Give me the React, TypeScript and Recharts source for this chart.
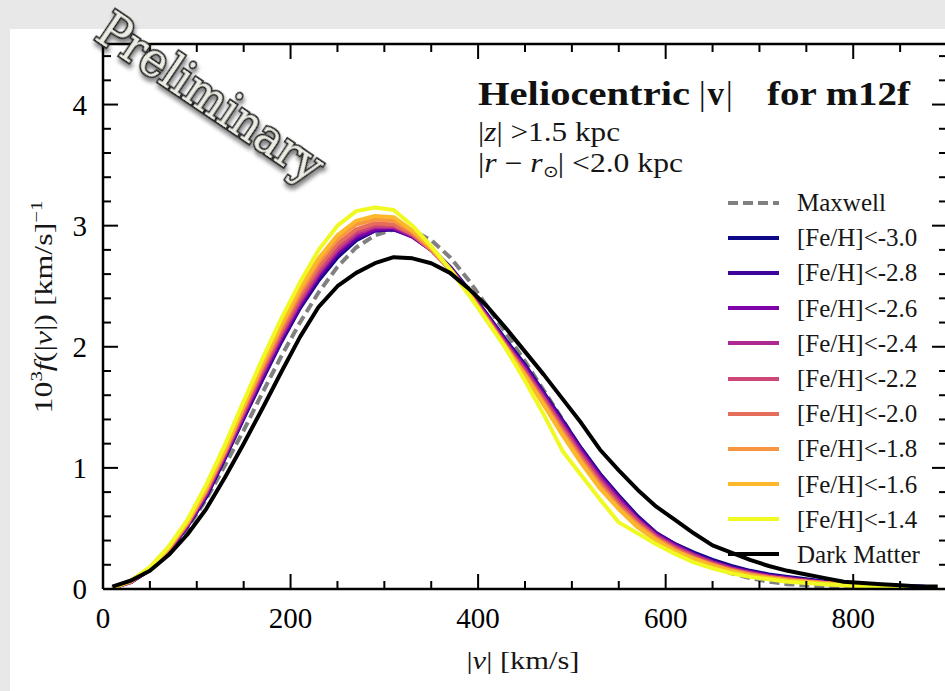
import React from 'react';
import { LineChart, Line, XAxis, YAxis, Legend } from 'recharts';

// |v| bin centres in km/s
const velocity = [10, 30, 50, 70, 90, 110, 130, 150, 170, 190, 210, 230, 250, 270, 290, 310, 330, 350, 370, 390, 410, 430, 450, 470, 490, 510, 530, 550, 570, 590, 610, 630, 650, 670, 690, 710, 730, 750, 770, 790, 810, 830, 850, 870, 890];

// 10^3 f(|v|) for each selection
const maxwell = [0.01, 0.06, 0.16, 0.31, 0.50, 0.74, 1.02, 1.31, 1.62, 1.92, 2.20, 2.45, 2.66, 2.82, 2.92, 2.97, 2.96, 2.88, 2.74, 2.55, 2.33, 2.11, 1.88, 1.64, 1.40, 1.15, 0.94, 0.75, 0.59, 0.45, 0.34, 0.25, 0.18, 0.13, 0.09, 0.06, 0.04, 0.03, 0.02, 0.01, 0.01, 0.01, 0, 0, 0];
const feH30 = [0.01, 0.06, 0.16, 0.31, 0.52, 0.76, 1.08, 1.41, 1.73, 2.04, 2.32, 2.55, 2.74, 2.88, 2.96, 2.97, 2.92, 2.81, 2.66, 2.47, 2.26, 2.05, 1.85, 1.62, 1.39, 1.16, 0.95, 0.77, 0.60, 0.46, 0.37, 0.30, 0.24, 0.19, 0.15, 0.12, 0.10, 0.08, 0.06, 0.05, 0.04, 0.03, 0.02, 0.02, 0.01];
const feH28 = [0.01, 0.06, 0.16, 0.31, 0.52, 0.77, 1.09, 1.42, 1.74, 2.05, 2.33, 2.57, 2.76, 2.89, 2.96, 2.97, 2.91, 2.80, 2.65, 2.46, 2.25, 2.04, 1.84, 1.61, 1.38, 1.15, 0.94, 0.76, 0.59, 0.46, 0.37, 0.29, 0.23, 0.18, 0.14, 0.11, 0.09, 0.07, 0.06, 0.05, 0.04, 0.03, 0.02, 0.02, 0.01];
const feH26 = [0.01, 0.06, 0.16, 0.32, 0.53, 0.78, 1.10, 1.43, 1.76, 2.07, 2.35, 2.59, 2.78, 2.91, 2.97, 2.98, 2.91, 2.80, 2.65, 2.46, 2.25, 2.03, 1.83, 1.60, 1.37, 1.14, 0.93, 0.75, 0.58, 0.45, 0.36, 0.28, 0.22, 0.17, 0.14, 0.11, 0.09, 0.07, 0.05, 0.04, 0.03, 0.03, 0.02, 0.01, 0.01];
const feH24 = [0.01, 0.06, 0.17, 0.32, 0.53, 0.79, 1.11, 1.45, 1.78, 2.09, 2.37, 2.61, 2.80, 2.93, 2.99, 2.99, 2.92, 2.80, 2.65, 2.45, 2.24, 2.02, 1.81, 1.58, 1.35, 1.12, 0.91, 0.73, 0.57, 0.44, 0.35, 0.28, 0.22, 0.17, 0.13, 0.10, 0.08, 0.07, 0.05, 0.04, 0.03, 0.02, 0.02, 0.01, 0.01];
const feH22 = [0.01, 0.06, 0.17, 0.33, 0.54, 0.80, 1.12, 1.46, 1.80, 2.11, 2.39, 2.63, 2.82, 2.95, 3.00, 3.00, 2.93, 2.80, 2.64, 2.45, 2.23, 2.01, 1.80, 1.57, 1.33, 1.10, 0.89, 0.71, 0.56, 0.43, 0.34, 0.27, 0.21, 0.16, 0.13, 0.10, 0.08, 0.06, 0.05, 0.04, 0.03, 0.02, 0.02, 0.01, 0.01];
const feH20 = [0.01, 0.06, 0.17, 0.33, 0.54, 0.81, 1.13, 1.48, 1.82, 2.13, 2.42, 2.66, 2.85, 2.97, 3.02, 3.01, 2.93, 2.80, 2.64, 2.44, 2.22, 2.00, 1.78, 1.55, 1.31, 1.08, 0.87, 0.69, 0.54, 0.42, 0.33, 0.26, 0.20, 0.16, 0.12, 0.10, 0.08, 0.06, 0.05, 0.04, 0.03, 0.02, 0.02, 0.01, 0.01];
const feH18 = [0.01, 0.07, 0.17, 0.34, 0.55, 0.82, 1.14, 1.50, 1.84, 2.16, 2.45, 2.70, 2.89, 3.01, 3.05, 3.04, 2.95, 2.81, 2.64, 2.44, 2.22, 1.99, 1.77, 1.53, 1.29, 1.06, 0.85, 0.67, 0.53, 0.41, 0.32, 0.25, 0.20, 0.15, 0.12, 0.09, 0.07, 0.06, 0.05, 0.04, 0.03, 0.02, 0.02, 0.01, 0.01];
const feH16 = [0.01, 0.07, 0.17, 0.34, 0.55, 0.83, 1.15, 1.51, 1.86, 2.18, 2.48, 2.73, 2.92, 3.04, 3.08, 3.07, 2.96, 2.82, 2.64, 2.44, 2.21, 1.99, 1.76, 1.52, 1.27, 1.04, 0.83, 0.66, 0.51, 0.40, 0.31, 0.25, 0.19, 0.15, 0.11, 0.09, 0.07, 0.06, 0.04, 0.03, 0.03, 0.02, 0.02, 0.01, 0.01];
const feH14 = [0.01, 0.07, 0.18, 0.35, 0.57, 0.86, 1.19, 1.55, 1.90, 2.23, 2.53, 2.80, 3.00, 3.12, 3.15, 3.13, 3.00, 2.83, 2.64, 2.43, 2.21, 1.98, 1.72, 1.44, 1.14, 0.94, 0.74, 0.55, 0.46, 0.37, 0.29, 0.22, 0.17, 0.13, 0.10, 0.08, 0.06, 0.05, 0.04, 0.03, 0.02, 0.02, 0.01, 0.01, 0.01];
const darkMatter = [0.02, 0.07, 0.15, 0.28, 0.45, 0.66, 0.92, 1.20, 1.49, 1.79, 2.08, 2.33, 2.50, 2.61, 2.69, 2.74, 2.73, 2.69, 2.61, 2.48, 2.33, 2.15, 1.96, 1.77, 1.57, 1.37, 1.15, 0.98, 0.82, 0.68, 0.57, 0.46, 0.36, 0.30, 0.24, 0.19, 0.15, 0.12, 0.09, 0.06, 0.05, 0.04, 0.03, 0.02, 0.02];

const xTicks = [0, 50, 100, 150, 200, 250, 300, 350, 400, 450, 500, 550, 600, 650, 700, 750, 800, 850, 900];
const yTicks = [0, 0.2, 0.4, 0.6, 0.8, 1, 1.2, 1.4, 1.6, 1.8, 2, 2.2, 2.4, 2.6, 2.8, 3, 3.2, 3.4, 3.6, 3.8, 4, 4.2, 4.4];

const series = [
  { key: 'maxwell', name: 'Maxwell', values: maxwell, color: '#808080', dash: '10 5' },
  { key: 'fe30', name: '[Fe/H]<-3.0', values: feH30, color: '#0d0887' },
  { key: 'fe28', name: '[Fe/H]<-2.8', values: feH28, color: '#3f049b' },
  { key: 'fe26', name: '[Fe/H]<-2.6', values: feH26, color: '#7e03a8' },
  { key: 'fe24', name: '[Fe/H]<-2.4', values: feH24, color: '#ae2892' },
  { key: 'fe22', name: '[Fe/H]<-2.2', values: feH22, color: '#cc4778' },
  { key: 'fe20', name: '[Fe/H]<-2.0', values: feH20, color: '#e66c5c' },
  { key: 'fe18', name: '[Fe/H]<-1.8', values: feH18, color: '#f89540' },
  { key: 'fe16', name: '[Fe/H]<-1.6', values: feH16, color: '#fdb72b' },
  { key: 'fe14', name: '[Fe/H]<-1.4', values: feH14, color: '#f0f921' },
  { key: 'dm', name: 'Dark Matter', values: darkMatter, color: '#000000' },
];

const rows = velocity.map((v, i) => {
  const row: Record<string, number> = { v };
  series.forEach((s) => { row[s.key] = s.values[i]; });
  return row;
});

const SERIF = "'Liberation Serif', 'Times New Roman', serif";

const isMajorX = (v: number) => v % 200 === 0;
const isMajorY = (v: number) => Math.abs(v - Math.round(v)) < 1e-6;

const BottomTick = (props: any) => {
  const { x, y, payload } = props;
  const major = isMajorX(payload.value);
  return (
    <g>
      <line x1={x} x2={x} y1={y} y2={y - (major ? 15 : 8)} stroke="#000" strokeWidth={2} />
      {major && (
        <text x={x} y={y + 39} textAnchor="middle" fontSize={29} fontFamily={SERIF} fill="#000">
          {payload.value}
        </text>
      )}
    </g>
  );
};

const TopTick = (props: any) => {
  const { x, y, payload } = props;
  const major = isMajorX(payload.value);
  return <line x1={x} x2={x} y1={y} y2={y + (major ? 15 : 8)} stroke="#000" strokeWidth={2} />;
};

const LeftTick = (props: any) => {
  const { x, y, payload } = props;
  const major = isMajorY(payload.value);
  return (
    <g>
      <line x1={x} x2={x + (major ? 15 : 8)} y1={y} y2={y} stroke="#000" strokeWidth={2} />
      {major && (
        <text x={x - 16} y={y} dy="0.35em" textAnchor="end" fontSize={29} fontFamily={SERIF} fill="#000">
          {Math.round(payload.value)}
        </text>
      )}
    </g>
  );
};

const RightTick = (props: any) => {
  const { x, y, payload } = props;
  const major = isMajorY(payload.value);
  return <line x1={x} x2={x - (major ? 15 : 8)} y1={y} y2={y} stroke="#000" strokeWidth={2} />;
};

const renderLegend = (props: any) => {
  const items = [...(props.payload || [])].sort(
    (a: any, b: any) => series.findIndex((s) => s.name === a.value) - series.findIndex((s) => s.name === b.value)
  );
  return (
    <div>
      {items.map((item: any) => {
        const cfg = series.find((s) => s.name === item.value);
        return (
          <div key={item.value} style={{ display: 'flex', alignItems: 'center', height: 35.2 }}>
            <svg width={51} height={8} style={{ display: 'block' }}>
              <line x1={0} x2={51} y1={4} y2={4} stroke={item.color} strokeWidth={4} strokeDasharray={cfg?.dash} />
            </svg>
            <span style={{ marginLeft: 18, fontFamily: SERIF, fontSize: 25, color: '#161616', lineHeight: 1, whiteSpace: 'nowrap' }}>
              {item.value}
            </span>
          </div>
        );
      })}
    </div>
  );
};

const axisLine = { stroke: '#000', strokeWidth: 2.5 };

export default function App() {
  return (
    <div style={{ position: 'fixed', left: 0, top: 0, width: 945, height: 691, overflow: 'hidden', background: '#e8e8e8' }}>
      <div style={{ position: 'absolute', left: 10, top: 29, right: 0, bottom: 0, background: '#ffffff' }} />
      <div style={{ position: 'absolute', left: 0, top: 0 }}>
        <LineChart width={957} height={691} data={rows} margin={{ top: 0, right: 0, bottom: 0, left: 0 }}>
          <XAxis
            xAxisId="b"
            dataKey="v"
            type="number"
            domain={[0, 900]}
            ticks={xTicks}
            interval={0}
            height={102}
            tickSize={0}
            tickMargin={0}
            tickLine={false}
            axisLine={axisLine}
            tick={<BottomTick />}
            allowDataOverflow
          />
          <XAxis
            xAxisId="t"
            orientation="top"
            dataKey="v"
            type="number"
            domain={[0, 900]}
            ticks={xTicks}
            interval={0}
            height={44}
            tickSize={0}
            tickMargin={0}
            tickLine={false}
            axisLine={axisLine}
            tick={<TopTick />}
            allowDataOverflow
          />
          <YAxis
            yAxisId="l"
            type="number"
            domain={[0, 4.5]}
            ticks={yTicks}
            interval={0}
            width={103}
            tickSize={0}
            tickMargin={0}
            tickLine={false}
            axisLine={axisLine}
            tick={<LeftTick />}
            allowDataOverflow
          />
          <YAxis
            yAxisId="r"
            orientation="right"
            type="number"
            domain={[0, 4.5]}
            ticks={yTicks}
            interval={0}
            width={10}
            tickSize={0}
            tickMargin={0}
            tickLine={false}
            axisLine={axisLine}
            tick={<RightTick />}
            allowDataOverflow
          />
          <Legend
            layout="vertical"
            align="center"
            verticalAlign="middle"
            content={renderLegend}
            wrapperStyle={{ left: 728, top: 185, width: 215 }}
          />
          {series.map((s) => (
            <Line
              key={s.key}
              xAxisId="b"
              yAxisId="l"
              type="linear"
              dataKey={s.key}
              name={s.name}
              stroke={s.color}
              strokeWidth={4}
              strokeDasharray={s.dash}
              strokeLinejoin="round"
              dot={false}
              activeDot={false}
              isAnimationActive={false}
            />
          ))}
        </LineChart>
      </div>
      <svg width={945} height={691} style={{ position: 'absolute', left: 0, top: 0, pointerEvents: 'none' }}>
        <defs>
          <filter id="wmShadow" x="-20%" y="-40%" width="140%" height="180%">
            <feDropShadow dx="3" dy="3" stdDeviation="2" floodColor="#000" floodOpacity="0.5" />
          </filter>
        </defs>
        <text x={478} y={105} fontFamily={SERIF} fontWeight="bold" fontSize={33} textLength={212} lengthAdjust="spacingAndGlyphs" fill="#111">
          Heliocentric
        </text>
        <text x={699} y={105} fontFamily={SERIF} fontSize={33} fill="#111">
          |<tspan fontWeight="bold" dx={2}>v</tspan><tspan dx={2}>|</tspan>
        </text>
        <text x={767} y={105} fontFamily={SERIF} fontWeight="bold" fontSize={33} textLength={143} lengthAdjust="spacingAndGlyphs" fill="#111">
          for m12f
        </text>
        <text x={478} y={141} fontFamily={SERIF} fontSize={27} textLength={142} lengthAdjust="spacingAndGlyphs" fill="#161616">
          |<tspan fontStyle="italic">z</tspan>| &gt;1.5 kpc
        </text>
        <text x={478} y={172} fontFamily={SERIF} fontSize={27} textLength={205} lengthAdjust="spacingAndGlyphs" fill="#161616">
          |<tspan fontStyle="italic">r</tspan> − <tspan fontStyle="italic">r</tspan>
          <tspan fontSize={16} dy={5}>⊙</tspan>
          <tspan dy={-5}>| &lt;2.0 kpc</tspan>
        </text>
        <text x={523} y={669} textAnchor="middle" fontFamily={SERIF} fontSize={26} textLength={113} lengthAdjust="spacingAndGlyphs" fill="#161616">
          |<tspan fontStyle="italic">v</tspan>| [km/s]
        </text>
        <text
          x={52}
          y={307}
          transform="rotate(-90 52 307)"
          textAnchor="middle"
          fontFamily={SERIF}
          fontSize={26}
          textLength={213}
          lengthAdjust="spacingAndGlyphs"
          fill="#161616"
        >
          10<tspan fontSize={17} dy={-10}>3</tspan>
          <tspan dy={10} fontStyle="italic">f</tspan>(|<tspan fontStyle="italic">v</tspan>|) [km/s]
          <tspan fontSize={17} dy={-10}>−1</tspan>
        </text>
        <g transform="translate(210 99) rotate(34)">
          <text
            x={0}
            y={15}
            textAnchor="middle"
            fontFamily="'DejaVu Serif', serif"
            fontSize={48}
            textLength={262}
            lengthAdjust="spacingAndGlyphs"
            fill="#ececE4"
            stroke="#222"
            strokeWidth={3.5}
            paintOrder="stroke"
            filter="url(#wmShadow)"
          >
            Preliminary
          </text>
        </g>
      </svg>
    </div>
  );
}
